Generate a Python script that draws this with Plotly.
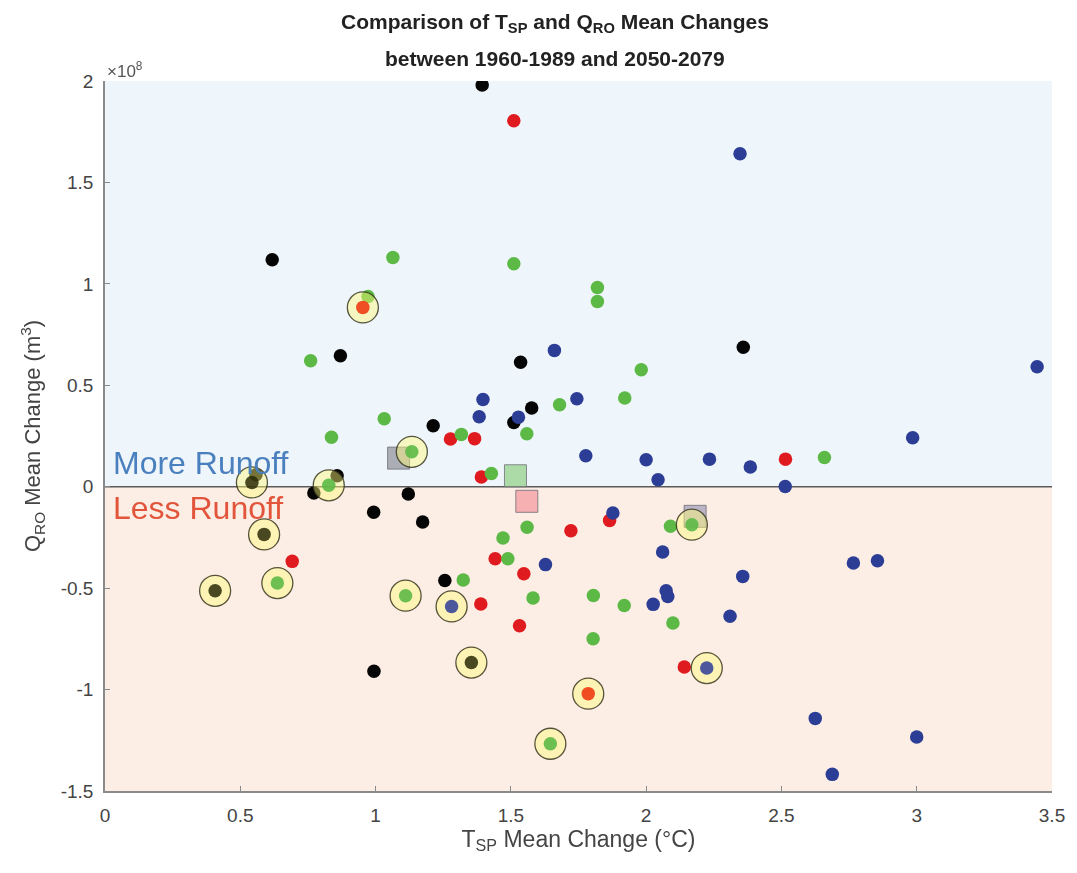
import plotly.graph_objects as go

# ---- data (TSP mean change in °C, QRO mean change in 1e8 m^3) ----
black_x = [1.394, 0.618, 0.870, 2.359, 1.536, 1.577, 1.511, 1.213, 0.558, 0.858, 0.772, 1.121, 0.993, 1.174, 1.256, 0.994]
black_y = [1.980, 1.119, 0.646, 0.688, 0.614, 0.388, 0.317, 0.301, 0.059, 0.054, -0.031, -0.036, -0.126, -0.174, -0.462, -0.910]

red_x = [1.511, 1.277, 1.366, 1.391, 2.515, 1.865, 1.722, 0.692, 1.442, 1.548, 1.389, 1.532, 2.141]
red_y = [1.804, 0.235, 0.237, 0.048, 0.136, -0.166, -0.217, -0.368, -0.355, -0.429, -0.578, -0.685, -0.889]

green_x = [1.064, 0.972, 1.511, 1.820, 1.820, 0.760, 1.982, 1.921, 1.680, 1.032, 0.837, 1.317, 1.559, 1.428,
           2.659, 1.560, 2.090, 1.471, 1.489, 1.324, 1.582, 1.805, 1.919, 2.099, 1.804]
green_y = [1.130, 0.938, 1.099, 0.982, 0.913, 0.621, 0.577, 0.437, 0.404, 0.335, 0.244, 0.258, 0.261, 0.065,
           0.144, -0.200, -0.195, -0.253, -0.355, -0.460, -0.549, -0.536, -0.586, -0.672, -0.749]

blue_x = [2.347, 3.445, 1.661, 1.397, 1.744, 1.383, 1.528, 2.985, 1.777, 2.000, 2.234, 2.385, 2.044, 2.514,
          1.877, 2.061, 1.628, 2.766, 2.855, 2.357, 2.074, 2.080, 2.026, 2.310, 2.625, 3.000, 2.688]
blue_y = [1.641, 0.591, 0.672, 0.430, 0.434, 0.345, 0.343, 0.241, 0.153, 0.133, 0.136, 0.097, 0.034, 0.001,
          -0.130, -0.322, -0.384, -0.376, -0.365, -0.442, -0.513, -0.541, -0.580, -0.639, -1.142, -1.234, -1.418]

# highlighted (circled) points and their group
circ_black_x = [0.543, 0.588, 0.407, 1.354]
circ_black_y = [0.021, -0.235, -0.513, -0.867]
circ_red_x = [0.953, 1.786]
circ_red_y = [0.884, -1.020]
circ_green_x = [1.134, 0.827, 0.637, 1.111, 2.169, 1.646]
circ_green_y = [0.172, 0.007, -0.475, -0.537, -0.187, -1.267]
circ_blue_x = [1.281, 2.224]
circ_blue_y = [-0.590, -0.894]

# group means (squares)
mean_x = [1.085, 1.517, 1.559, 2.181]
mean_y = [0.141, 0.054, -0.072, -0.146]

x_ticks = [0, 0.5, 1, 1.5, 2, 2.5, 3, 3.5]
y_ticks = [-1.5, -1, -0.5, 0, 0.5, 1, 1.5, 2]
y_ticklabels = ["-1.5", "-1", "-0.5", "0", "0.5", "1", "1.5", "2"]

FONT = "Liberation Sans, Arial, Helvetica, sans-serif"
C_BLACK = "#050505"
C_RED = "#e01b1f"
C_GREEN = "#5cb946"
C_BLUE = "#2c3d96"

fig = go.Figure()

# background regions
fig.add_shape(type="rect", x0=0, x1=3.5, y0=0, y1=2, fillcolor="#eef5fb", line_width=0, layer="below")
fig.add_shape(type="rect", x0=0, x1=3.5, y0=-1.5, y1=0, fillcolor="#fcede5", line_width=0, layer="below")
fig.add_shape(type="line", x0=0, x1=3.5, y0=0, y1=0, line=dict(color="#5a5a5a", width=1.6), layer="below")

def dots(xs, ys, color, name, opacity=1.0):
    fig.add_trace(go.Scatter(x=xs, y=ys, mode="markers", name=name, opacity=opacity,
                             marker=dict(size=13.5, color=color, line=dict(width=0))))

dots(black_x, black_y, C_BLACK, "black")
dots(red_x, red_y, C_RED, "red")
dots(green_x, green_y, C_GREEN, "green")
dots(blue_x, blue_y, C_BLUE, "blue")

# squares for means
fig.add_trace(go.Scatter(x=mean_x, y=mean_y, mode="markers", name="means",
                         marker=dict(symbol="square", size=22,
                                     color=["rgba(150,150,160,0.75)", "rgba(150,210,140,0.75)",
                                            "rgba(245,160,165,0.8)", "rgba(165,160,185,0.75)"],
                                     line=dict(color="rgba(110,110,120,0.8)", width=1))))

# highlight circles (translucent yellow overlays)
cx = circ_black_x + circ_red_x + circ_green_x + circ_blue_x
cy = circ_black_y + circ_red_y + circ_green_y + circ_blue_y
fig.add_trace(go.Scatter(x=cx, y=cy, mode="markers", name="highlight",
                         marker=dict(size=31, color="rgba(255,250,120,0.45)",
                                     line=dict(color="rgba(55,55,30,0.85)", width=1.3))))

# circled points on top, slightly translucent
dots(circ_black_x, circ_black_y, "#2a2a05", "black*", 0.85)
dots(circ_red_x, circ_red_y, "#f03a12", "red*", 0.9)
dots(circ_green_x, circ_green_y, C_GREEN, "green*", 0.9)
dots(circ_blue_x, circ_blue_y, C_BLUE, "blue*", 0.85)

# labels
fig.add_annotation(x=0.022, y=0.118, xref="x", yref="y", text="More Runoff", showarrow=False,
                   xanchor="left", yanchor="middle", font=dict(family=FONT, size=32, color="#4a80bd"))
fig.add_annotation(x=0.022, y=-0.103, xref="x", yref="y", text="Less Runoff", showarrow=False,
                   xanchor="left", yanchor="middle", font=dict(family=FONT, size=32, color="#e2553b"))

fig.add_annotation(x=0.475, y=1.082, xref="paper", yref="paper", showarrow=False,
                   text="<b>Comparison of T<sub>SP</sub> and Q<sub>RO</sub> Mean Changes</b>",
                   font=dict(family=FONT, size=21, color="#222"), xanchor="center", yanchor="middle")
fig.add_annotation(x=0.475, y=1.032, xref="paper", yref="paper", showarrow=False,
                   text="<b>between 1960-1989 and 2050-2079</b>",
                   font=dict(family=FONT, size=21, color="#222"), xanchor="center", yanchor="middle")
fig.add_annotation(x=0.0, y=1.0, xref="paper", yref="paper", showarrow=False,
                   text="×10<sup>8</sup>", xanchor="left", yanchor="bottom", yshift=-2,
                   font=dict(family=FONT, size=17, color="#555"))

fig.update_layout(
    width=1077, height=873,
    margin=dict(l=105, r=19, t=81, b=82),
    paper_bgcolor="white", plot_bgcolor="white",
    showlegend=False,
    font=dict(family=FONT, size=15, color="#444"),
)
fig.update_xaxes(range=[0, 3.5], tickvals=x_ticks, ticks="inside", ticklen=5, tickcolor="#888",
                 showline=True, linecolor="#8a8a8a", linewidth=1.5, showgrid=False, zeroline=False,
                 tickfont=dict(family=FONT, size=19, color="#444"), ticklabelstandoff=6,
                 title=dict(text="T<sub>SP</sub> Mean Change (°C)", font=dict(family=FONT, size=23, color="#444"),
                            standoff=0))
fig.update_yaxes(range=[-1.5, 2], tickvals=y_ticks, ticktext=y_ticklabels, ticks="inside", ticklen=5,
                 tickcolor="#888", showline=True, linecolor="#8a8a8a", linewidth=1.5, showgrid=False,
                 zeroline=False, tickfont=dict(family=FONT, size=19, color="#444"), ticklabelstandoff=6,
                 title=dict(text="Q<sub>RO</sub> Mean Change (m<sup>3</sup>)",
                            font=dict(family=FONT, size=22, color="#444"), standoff=14))

fig.write_html("out.html")
